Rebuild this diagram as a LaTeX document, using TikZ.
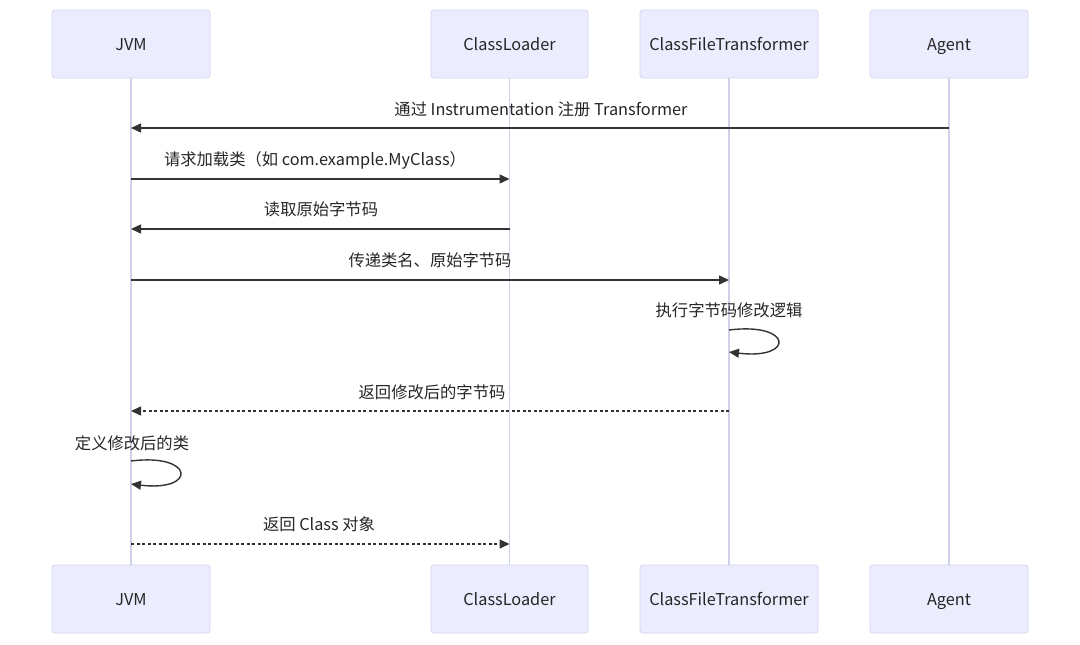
\documentclass[tikz,border=0pt]{standalone}
\usepackage{fontspec}
\setmainfont{Noto Sans CJK SC}
\usetikzlibrary{arrows.meta}
\definecolor{boxfill}{HTML}{ECECFF}
\definecolor{boxline}{HTML}{D4D4EE}
\definecolor{lifeline}{HTML}{D0D0E8}
\definecolor{msg}{HTML}{333333}
\tikzset{
  actor/.style={draw=boxline, fill=boxfill, rounded corners=3pt, minimum height=68pt, line width=0.8pt, font=\fontsize{16.3}{19}\selectfont, text=black!85, inner sep=0pt},
  actortext/.style={font=\fontsize{16.3}{19}\selectfont, text=black!85, inner sep=0pt, text height=0.75em, text depth=0.2em, yshift=-4pt},
  life/.style={draw=lifeline, line width=1.5pt},
  msgarrow/.style={draw=msg, line width=1.4pt, -{Triangle[length=10pt,width=9pt]}},
  msgdash/.style={msgarrow, dash pattern=on 3pt off 2.5pt},
  lbl/.style={font=\fontsize{16.3}{19}\selectfont, text=black!85, inner sep=0pt, text height=0.75em, text depth=0.2em, yshift=-4pt}
}
\begin{document}
\begin{tikzpicture}[x=1pt,y=-1pt]
\useasboundingbox[fill=white] (0,0) rectangle (1080,645);
% lifelines
\coordinate (jvmtop) at (131,78); \coordinate (jvmbot) at (131,565);
\coordinate (cltop) at (509.5,78); \coordinate (clbot) at (509.5,565);
\coordinate (cfttop) at (729,78); \coordinate (cftbot) at (729,565);
\coordinate (agtop) at (949,78); \coordinate (agbot) at (949,565);
\draw[life] (jvmtop) -- (jvmbot);
\draw[life] (cltop) -- (clbot);
\draw[life] (cfttop) -- (cftbot);
\draw[life] (agtop) -- (agbot);
% actor boxes
\node[actor, minimum width=158pt] (jvmT) at (131,44) {};
\node[actortext] (jvmTt) at (jvmT.center) {JVM};
\node[actor, minimum width=157pt] (clT) at (509.5,44) {};
\node[actortext] (clTt) at (clT.center) {ClassLoader};
\node[actor, minimum width=178pt] (cftT) at (729,44) {};
\node[actortext] (cftTt) at (cftT.center) {ClassFileTransformer};
\node[actor, minimum width=158pt] (agT) at (949,44) {};
\node[actortext] (agTt) at (agT.center) {Agent};
\node[actor, minimum width=158pt] (jvmB) at (131,599) {};
\node[actortext] (jvmBt) at (jvmB.center) {JVM};
\node[actor, minimum width=157pt] (clB) at (509.5,599) {};
\node[actortext] (clBt) at (clB.center) {ClassLoader};
\node[actor, minimum width=178pt] (cftB) at (729,599) {};
\node[actortext] (cftBt) at (cftB.center) {ClassFileTransformer};
\node[actor, minimum width=158pt] (agB) at (949,599) {};
\node[actortext] (agBt) at (agB.center) {Agent};
% message 1
\coordinate (ag1) at (949,128); \coordinate (jvm1) at (131,128);
\node[lbl] (l1) at (541,109) {通过 Instrumentation 注册 Transformer};
\draw[msgarrow] (ag1) -- (jvm1);
% message 2
\coordinate (jvm2) at (131,179); \coordinate (cl2) at (509.5,179);
\node[lbl] (l2) at (315,159) {请求加载类（如 com.example.MyClass）};
\draw[msgarrow] (jvm2) -- (cl2);
% message 3
\coordinate (cl3) at (509.5,229); \coordinate (jvm3) at (131,229);
\node[lbl] (l3) at (321,209) {读取原始字节码};
\draw[msgarrow] (cl3) -- (jvm3);
% message 4
\coordinate (jvm4) at (131,280); \coordinate (cft4) at (729,280);
\node[lbl] (l4) at (430,260) {传递类名、原始字节码};
\draw[msgarrow] (jvm4) -- (cft4);
% self loop 5
\coordinate (cft5a) at (729,330); \coordinate (cft5b) at (729,352);
\node[lbl] (l5) at (729,310) {执行字节码修改逻辑};
\draw[msgarrow] (cft5a) .. controls (793,322) and (795,360) .. (cft5b);
% message 6
\coordinate (cft6) at (729,411); \coordinate (jvm6) at (131,411);
\node[lbl] (l6) at (432,392) {返回修改后的字节码};
\draw[msgdash] (cft6) -- (jvm6);
% self loop 7
\coordinate (jvm7a) at (131,461); \coordinate (jvm7b) at (131,484);
\node[lbl] (l7) at (132,443) {定义修改后的类};
\draw[msgarrow] (jvm7a) .. controls (195,453) and (197,492) .. (jvm7b);
% message 8
\coordinate (jvm8) at (131,544); \coordinate (cl8) at (509.5,544);
\node[lbl] (l8) at (319,524) {返回 Class 对象};
\draw[msgdash] (jvm8) -- (cl8);
\end{tikzpicture}
\end{document}
